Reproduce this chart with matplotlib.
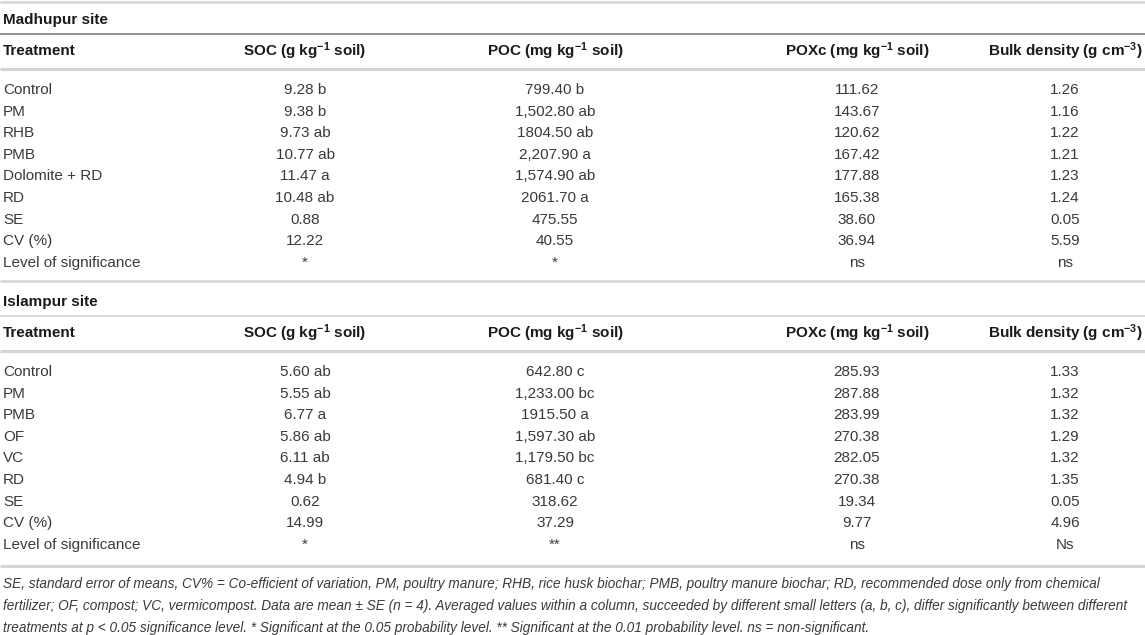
import matplotlib.pyplot as plt

plt.rcParams['font.family'] = ['Liberation Sans', 'DejaVu Sans']
plt.rcParams['mathtext.default'] = 'regular'

# column headers
headers = ["Treatment", "SOC (g kg$^{-1}$ soil)", "POC (mg kg$^{-1}$ soil)",
           "POXc (mg kg$^{-1}$ soil)", "Bulk density (g cm$^{-3}$)"]

# Madhupur site
mad_treat = ["Control", "PM", "RHB", "PMB", "Dolomite + RD", "RD", "SE", "CV (%)",
             "Level of significance"]
mad_soc = ["9.28 b", "9.38 b", "9.73 ab", "10.77 ab", "11.47 a", "10.48 ab", "0.88", "12.22", "*"]
mad_poc = ["799.40 b", "1,502.80 ab", "1804.50 ab", "2,207.90 a", "1,574.90 ab", "2061.70 a",
           "475.55", "40.55", "*"]
mad_poxc = ["111.62", "143.67", "120.62", "167.42", "177.88", "165.38", "38.60", "36.94", "ns"]
mad_bd = ["1.26", "1.16", "1.22", "1.21", "1.23", "1.24", "0.05", "5.59", "ns"]

# Islampur site
isl_treat = ["Control", "PM", "PMB", "OF", "VC", "RD", "SE", "CV (%)", "Level of significance"]
isl_soc = ["5.60 ab", "5.55 ab", "6.77 a", "5.86 ab", "6.11 ab", "4.94 b", "0.62", "14.99", "*"]
isl_poc = ["642.80 c", "1,233.00 bc", "1915.50 a", "1,597.30 ab", "1,179.50 bc", "681.40 c",
           "318.62", "37.29", "**"]
isl_poxc = ["285.93", "287.88", "283.99", "270.38", "282.05", "270.38", "19.34", "9.77", "ns"]
isl_bd = ["1.33", "1.32", "1.32", "1.29", "1.32", "1.35", "0.05", "4.96", "Ns"]

footnote = [
    "SE, standard error of means, CV% = Co-efficient of variation, PM, poultry manure; RHB, rice husk biochar; "
    "PMB, poultry manure biochar; RD, recommended dose only from chemical",
    "fertilizer; OF, compost; VC, vermicompost. Data are mean \u00b1 SE (n = 4). Averaged values within a column, "
    "succeeded by different small letters (a, b, c), differ significantly between different",
    "treatments at p < 0.05 significance level. * Significant at the 0.05 probability level. "
    "** Significant at the 0.01 probability level. ns = non-significant.",
]

fs = 11
fs_note = 9.8
txt = '#3a3a3a'
hdr = '#1a1a1a'
light = '#d4d4d4'
dark = '#808080'
col_x = [3, 305, 555, 857, 1065]
row_h = 21.6

fig = plt.figure(figsize=(11.45, 6.35), dpi=100)
ax = fig.add_axes([0, 0, 1, 1])
ax.set_xlim(0, 1145)
ax.set_ylim(635, 0)
ax.axis('off')


def hline(y, color, lw):
    ax.plot([0, 1145], [y, y], color=color, lw=lw, solid_capstyle='butt')


def block(top, title, treat, cols, title_line):
    ax.text(3, top + 19, title, fontsize=fs, fontweight='bold', color=hdr, va='center')
    hline(top + 33, title_line, 1.2)
    for i, h in enumerate(headers):
        ha = 'left' if i == 0 else 'center'
        ax.text(col_x[i], top + 50, h, fontsize=fs, fontweight='bold', color=hdr, va='center', ha=ha)
    hline(top + 68, light, 2.2)
    y0 = top + 89
    for r, name in enumerate(treat):
        y = y0 + r * row_h
        ax.text(col_x[0], y, name, fontsize=fs, color=txt, va='center')
        for c, vals in enumerate(cols):
            ax.text(col_x[c + 1], y, vals[r], fontsize=fs, color=txt, va='center', ha='center')


hline(2, light, 1.8)
block(1, "Madhupur site", mad_treat, [mad_soc, mad_poc, mad_poxc, mad_bd], dark)
hline(281, light, 1.8)
block(283, "Islampur site", isl_treat, [isl_soc, isl_poc, isl_poxc, isl_bd], light)
hline(566, light, 2.2)

for k, line in enumerate(footnote):
    ax.text(3, 584 + k * 22, line, fontsize=fs_note, style='italic', color=txt, va='center')

fig.savefig('out.png', dpi=100, facecolor='white')
